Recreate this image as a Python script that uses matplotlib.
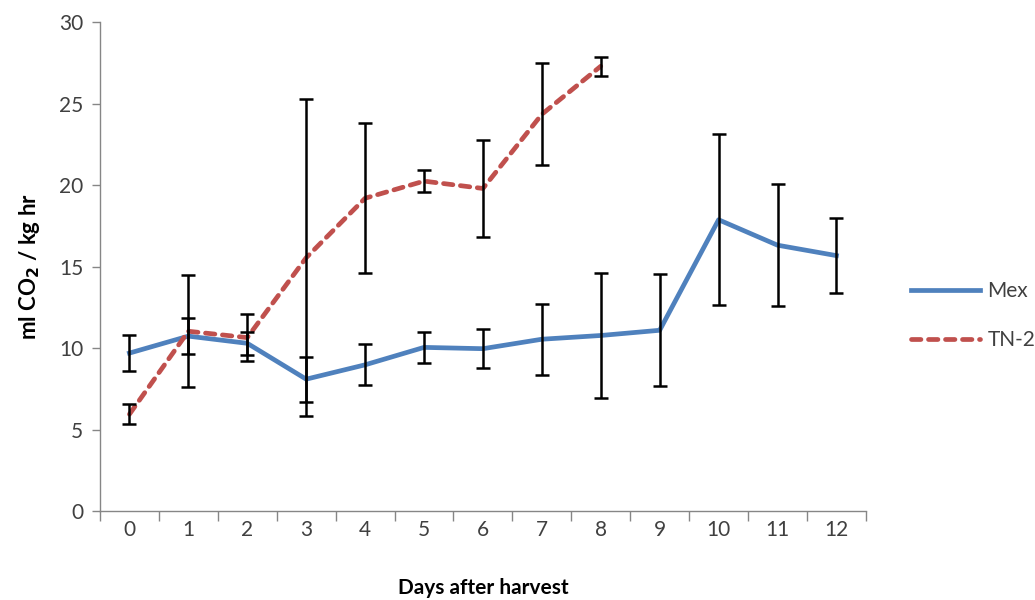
import numpy as np
import matplotlib.pyplot as plt

plt.rcParams['font.family'] = ['Lato', 'DejaVu Sans']

days = list(range(13))
mex = [9.7, 10.74, 10.3, 8.1, 8.98, 10.05, 9.97, 10.55, 10.78, 11.1, 17.88, 16.32, 15.68]
mex_err = [1.1, 1.1, 0.69, 1.38, 1.26, 0.93, 1.21, 2.19, 3.83, 3.43, 5.25, 3.75, 2.32]
tn2_days = list(range(9))
tn2 = [5.95, 11.04, 10.65, 15.55, 19.2, 20.25, 19.8, 24.35, 27.3]
tn2_err = [0.62, 3.45, 1.43, 9.72, 4.6, 0.66, 3.0, 3.13, 0.59]

fig = plt.figure(figsize=(10.35, 6), dpi=100)
ax = fig.add_axes([0.0966, 0.148, 0.74, 0.815])

blue = '#4F81BD'
red = '#C0504D'
ax.plot(days, mex, color=blue, lw=3.4, label='Mex', zorder=2)
ax.plot(tn2_days, tn2, color=red, lw=3.4, ls=(0, (2.0, 1.6)), dash_capstyle='round',
        label='TN-2', zorder=2)
ax.errorbar(days, mex, yerr=mex_err, fmt='none', ecolor='black', elinewidth=1.8,
            capsize=5, capthick=1.8, zorder=3)
ax.errorbar(tn2_days, tn2, yerr=tn2_err, fmt='none', ecolor='black', elinewidth=1.8,
            capsize=5, capthick=1.8, zorder=3)

ax.set_xlim(-0.5, 12.5)
ax.set_ylim(0, 30)
ax.set_yticks(np.arange(0, 31, 5))
ax.set_xticks(days)
ax.set_xticks(np.arange(-0.5, 13, 1), minor=True)
ax.tick_params(axis='x', which='major', length=0, pad=6, labelsize=15, colors='#404040')
ax.tick_params(axis='x', which='minor', length=7, color='#868686', width=1)
ax.tick_params(axis='y', length=6, color='#868686', width=1, labelsize=15, labelcolor='#404040', pad=6)

for s in ['top', 'right']:
    ax.spines[s].set_visible(False)
for s in ['left', 'bottom']:
    ax.spines[s].set_color('#868686')
    ax.spines[s].set_linewidth(1)

ax.set_xlabel('Days after harvest', fontsize=15, fontweight='bold', labelpad=28)
ax.set_ylabel('ml CO$_\\mathbf{2}$ / kg hr', fontsize=16, fontweight='bold', labelpad=12)

leg = ax.legend(loc='center left', bbox_to_anchor=(1.035, 0.4), frameon=False,
                fontsize=15, handlelength=3.3, labelspacing=1.4, handletextpad=0.35)
for t in leg.get_texts():
    t.set_color('#404040')

fig.savefig('out.png', dpi=100)
